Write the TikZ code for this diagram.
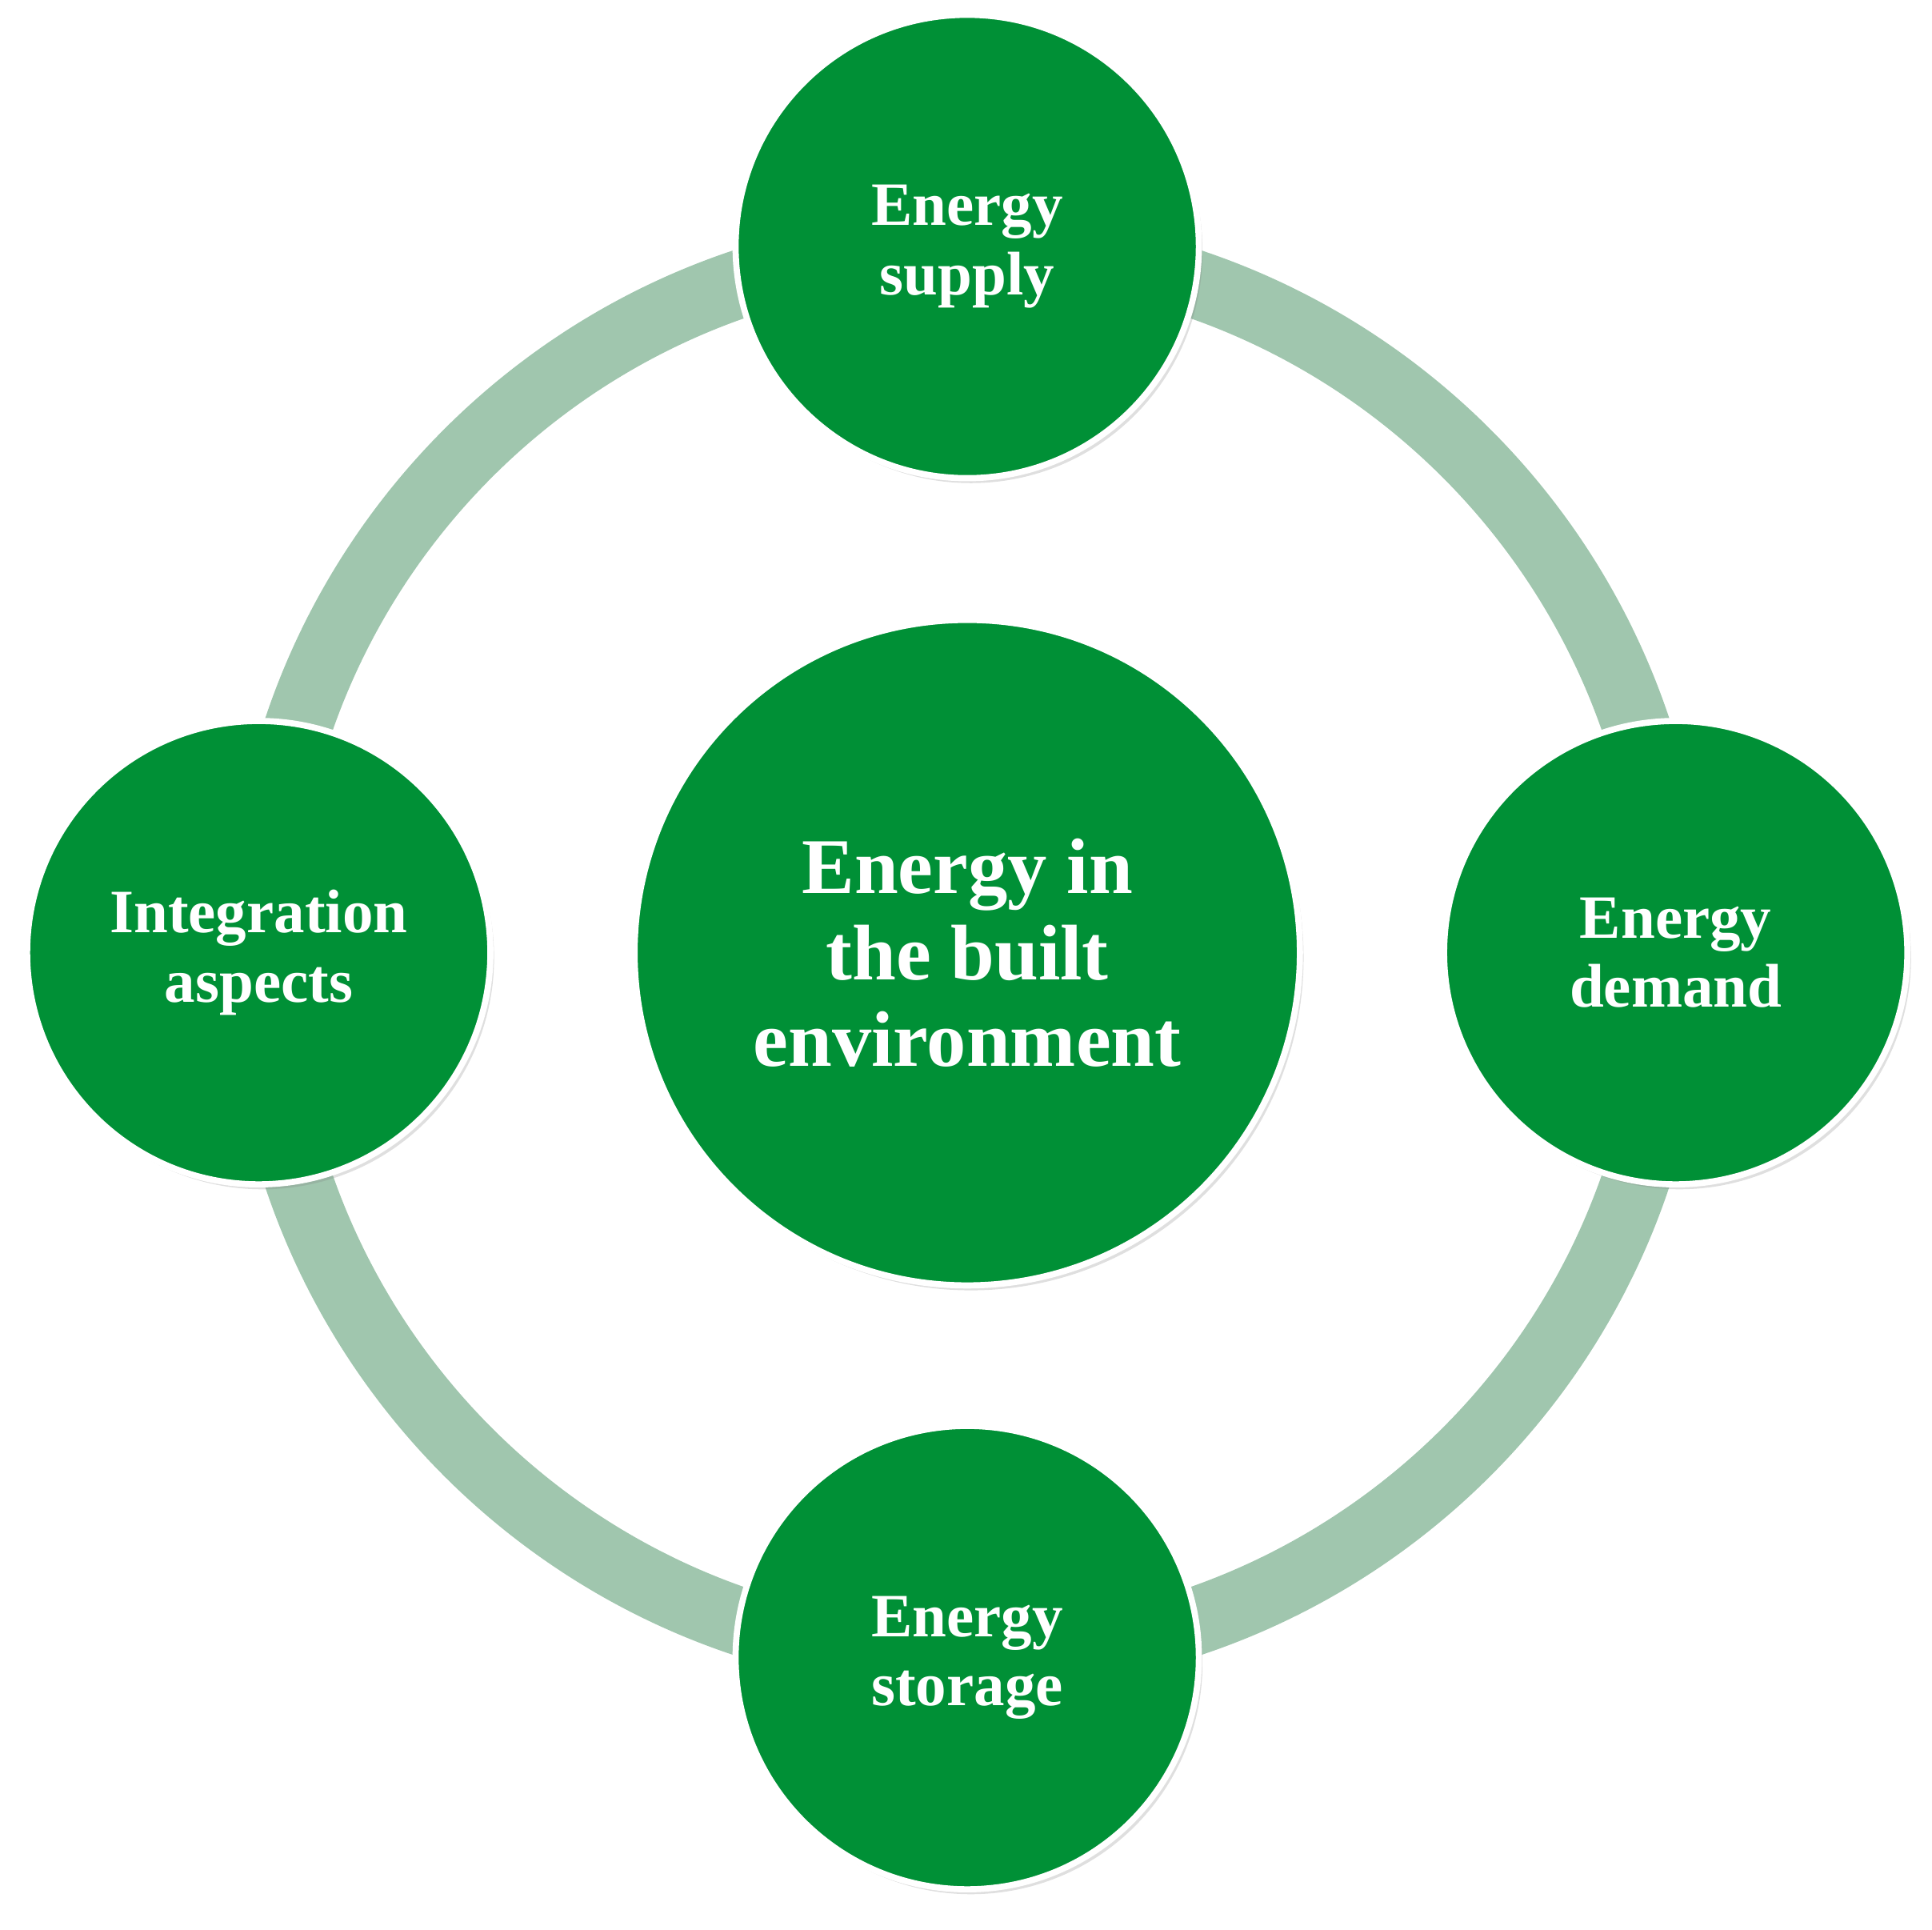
\documentclass[tikz,border=0pt]{standalone}
\usepackage{fontspec}
\setmainfont{Liberation Serif}
\usetikzlibrary{shadows}
\definecolor{dg}{HTML}{009036}
\definecolor{ring}{HTML}{A0C6AE}
\begin{document}
\begin{tikzpicture}[x=1pt,y=-1pt,
  bub/.style={circle,fill=dg,draw=white,line width=5pt,text=white,font=\bfseries,align=center,
    drop shadow={shadow xshift=3pt,shadow yshift=-4pt,opacity=0.25}},
  sm/.style={bub,minimum size=376pt,font=\fontsize{50}{56}\selectfont\bfseries},
  big/.style={bub,minimum size=540pt,font=\fontsize{64}{70}\selectfont\bfseries}]
\useasboundingbox (0,0) rectangle (1568,1566);
\draw[ring,line width=55pt] (785,773) circle (573);
\node[big] (c) at (785,773) {Energy in\\the built\\environment};
\node[sm] (t) at (785,200) {Energy\\supply};
\node[sm] (l) at (210,773) {Integration\\aspects};
\node[sm] (r) at (1360,773) {Energy\\demand};
\node[sm] (b) at (785,1345) {Energy\\storage};
\end{tikzpicture}
\end{document}
